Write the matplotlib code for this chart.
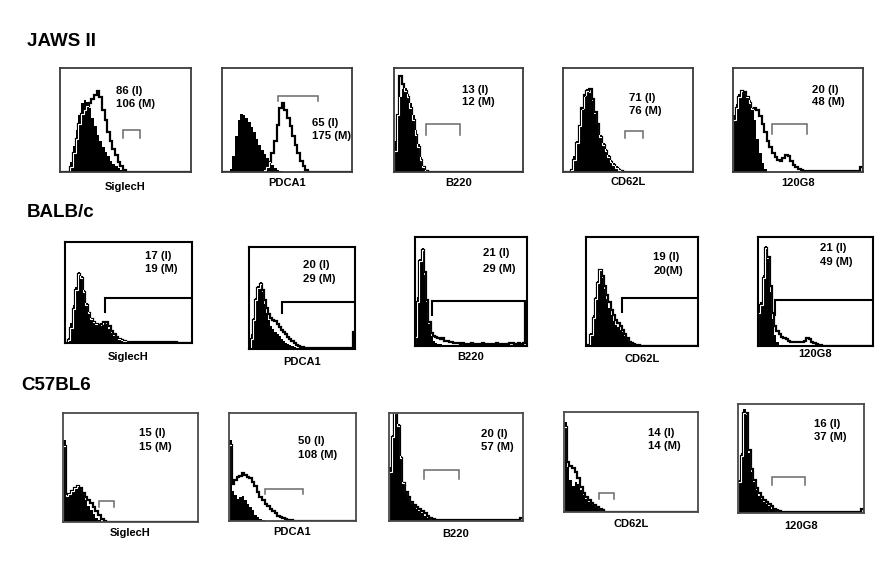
import numpy as np
import matplotlib
matplotlib.use("Agg")
import matplotlib.pyplot as plt

plt.rcParams['font.family'] = ['Liberation Sans', 'DejaVu Sans']

NB = 50  # histogram channels

markers = ["SiglecH", "PDCA1", "B220", "CD62L", "120G8"]
rows = ["JAWS II", "BALB/c", "C57BL6"]

# ---------------- JAWS II (isotype filled, marker open) ----------------
jaws_siglech_iso = [0,0,0,0,10,25,40,55,66,69,67,62,52,44,36,30,24,19,15,11,8,6,4,2,1]
jaws_siglech_mk  = [0,0,0,0,5,18,32,46,56,60,63,66,70,74,78,72,60,50,38,30,22,16,10,6,2]
jaws_pdca1_iso   = [0,0,0,3,15,35,50,56,55,52,48,43,38,32,26,21,17,13,10,7,4,2,1]
jaws_pdca1_mk    = [0]*16 + [2,5,10,18,30,45,62,66,60,52,44,35,26,18,11,6,2]
jaws_b220_iso    = [30,55,72,80,81,75,66,55,40,27,14,6,2]
jaws_b220_mk     = [20,55,92,85,78,72,62,50,36,24,12,5,1]
jaws_cd62l_iso   = [0,0,0,3,15,30,45,60,72,80,76,68,56,45,36,28,22,16,12,9,6,4,2]
jaws_cd62l_mk    = [0,0,0,2,12,28,44,62,74,78,80,70,58,46,34,26,20,14,10,7,4,2,1]
jaws_120g8_iso   = [55,65,75,78,76,72,69,62,50,32,18,9,3]
jaws_120g8_mk    = [50,62,72,78,77,72,66,61,62,60,54,46,38,30,24,18,14,12,11,13,16,15,11,7,5,3,2,1] + [1]*21 + [5]

# ---------------- BALB/c ----------------
balb_siglech_iso = [0,5,20,38,55,70,66,52,40,31,25,21,19,17,18,20,19,14,10,7,5,4,3,2,2,2] + [1]*17
balb_siglech_mk  = [0,3,15,34,52,68,64,50,38,30,24,21,19,18,19,21,21,17,12,9,6,4,3,2] + [1]*20
balb_pdca1_iso   = [0,15,30,50,62,66,56,44,35,28,23,20,17,15,13,10,8,6,5,4,3,2,1,1]
balb_pdca1_mk    = [0,10,28,48,60,64,58,48,40,34,30,28,27,25,22,19,17,15,12,10,8,6,4,3,2,2] + [1]*23 + [17]
balb_b220_iso    = [10,45,80,90,65,40,20,9,5,3,2,2,1,1,1]
balb_b220_mk     = [8,40,78,88,68,42,22,12,9,8,7,6,7,5,5,4,4,3,3,3,
                    2,3,2,2,2,3,2,2,2,2,3,2,2,2,2,2,3,2,2,2,2,2,3,3,2,2,3,2,3,39]
balb_cd62l_iso   = [0,2,12,28,45,60,70,62,52,43,35,28,23,19,17,15,13,9,6,3,2,1,1]
balb_cd62l_mk    = [0,1,10,26,43,58,70,64,55,47,40,33,28,24,21,18,15,11,7,4,3,2,1,1]
balb_120g8_iso   = [35,40,65,92,80,50,25,10,4,1]
balb_120g8_mk    = [30,38,62,90,82,55,30,18,14,11,8,7,6,5,4,4,4,4,4,4,5,7,6,4,3,2,1,1]

# ---------------- C57BL6 ----------------
c57_siglech_iso  = [75,25,27,28,31,33,30,26,20,15,11,7,4,2]
c57_siglech_mk   = [70,24,26,28,31,33,31,27,23,20,17,14,10,6,3,1]
c57_pdca1_iso    = [75,28,24,20,22,23,19,16,13,10,6,4,2,1]
c57_pdca1_mk     = [70,34,38,41,42,44,43,41,40,36,32,27,22,19,16,14,11,9,7,5,4,3,2,1,1]
c57_b220_iso     = [50,80,100,90,60,36,26,21,17,14,11,9,7,5,3,2,1]
c57_b220_mk      = [45,78,100,88,58,35,27,22,18,15,13,11,9,7,5,3,2] + [1]*32 + [3]
c57_cd62l_iso    = [90,45,32,26,30,28,22,17,13,10,8,6,4,2,1]
c57_cd62l_mk     = [85,50,46,44,40,34,25,19,15,12,9,7,5,3,2]
c57_120g8_iso    = [30,55,95,90,55,38,28,21,16,13,10,8,6,4,3,2,1]
c57_120g8_mk     = [28,52,92,92,58,40,30,23,18,15,12,10,8,6,4,3,2] + [1]*32 + [4]

iso = [[jaws_siglech_iso, jaws_pdca1_iso, jaws_b220_iso, jaws_cd62l_iso, jaws_120g8_iso],
       [balb_siglech_iso, balb_pdca1_iso, balb_b220_iso, balb_cd62l_iso, balb_120g8_iso],
       [c57_siglech_iso, c57_pdca1_iso, c57_b220_iso, c57_cd62l_iso, c57_120g8_iso]]
mk = [[jaws_siglech_mk, jaws_pdca1_mk, jaws_b220_mk, jaws_cd62l_mk, jaws_120g8_mk],
      [balb_siglech_mk, balb_pdca1_mk, balb_b220_mk, balb_cd62l_mk, balb_120g8_mk],
      [c57_siglech_mk, c57_pdca1_mk, c57_b220_mk, c57_cd62l_mk, c57_120g8_mk]]

# MFI values: isotype (I), marker (M)
mfi_iso = [["86", "65", "13", "71", "20"],
           ["17", "20", "21", "19", "21"],
           ["15", "50", "20", "14", "16"]]
mfi_mk = [["106 (M)", "175 (M)", "12 (M)", "76 (M)", "48 (M)"],
          ["19 (M)", "29 (M)", "29 (M)", "20(M)", "49 (M)"],
          ["15 (M)", "108 (M)", "57 (M)", "14 (M)", "37 (M)"]]

# gates (channel start, channel end, level %) ; BALB/c gates run to the top channel
gate_lo = [[24, 21.7, 12.25, 24, 15], [15.8, 15.75, 7.5, 16, 7.25], [13.25, 14.35, 13, 13, 13.5]]
gate_hi = [[30.5, 37, 25.5, 30.75, 28.5], [50, 50, 50, 50, 50], [18.85, 29, 26.25, 18.5, 26.5]]
gate_y = [[40, 73, 46, 39.5, 46.5], [44.5, 46, 41.5, 44, 42], [19.5, 30, 47, 19, 33]]
gate_tick = [[33, 68, 36, 33, 37], [31, 35, 28, 31, 28], [14, 25, 38.5, 13, 26]]

# ---------------- layout (pixels) ----------------
W, H = 886, 562
boxes = [[(60,68,191,172), (222,68,352,172), (394,68,523,172), (563,68,693,172), (733,68,863,172)],
         [(65,242,192,343), (249,247,355,349), (415,237,527,346), (586,237,698,346), (758,237,873,346)],
         [(63,413,198,522), (229,413,356,521), (389,413,523,521), (564,412,698,512), (738,404,864,513)]]
label_y = [[187,183,183,182,183], [357,362,357,359,354], [533,532,534,524,526]]
text_pos = [[(0.43,0.78,0.65), (0.69,0.47,0.35), (0.53,0.79,0.67), (0.51,0.71,0.59), (0.61,0.79,0.67)],
            [(0.63,0.86,0.73), (0.51,0.82,0.69), (0.61,0.85,0.71), (0.60,0.82,0.69), (0.54,0.90,0.775)],
            [(0.565,0.82,0.69), (0.54,0.74,0.615), (0.69,0.81,0.685), (0.625,0.79,0.66), (0.605,0.82,0.70)]]
title_pos = [(27, 42), (27, 213), (21, 385)]
box_col = ["#3a3a3a", "#000000", "#4a4a4a"]
gate_col = ["#6a6a6a", "#000000", "#6a6a6a"]

fig = plt.figure(figsize=(W/100, H/100), dpi=100)
edges = np.arange(NB + 1)

def pad(v):
    v = list(v)
    return np.array(v + [0]*(NB - len(v)), dtype=float)

for r in range(3):
    fig.text(title_pos[r][0]/W, 1 - title_pos[r][1]/H, rows[r], fontsize=13.5,
             fontweight='bold', va='center', ha='left')
    for c in range(5):
        l, t, rr, b = boxes[r][c]
        ax = fig.add_axes([l/W, 1 - b/H, (rr-l)/W, (b-t)/H])
        ax.stairs(pad(mk[r][c]), edges, color='black', lw=1.6)
        filled = ax.stairs(pad(iso[r][c]), edges, fill=True, color='black', lw=0)
        inner = ax.stairs(pad(mk[r][c]), edges, color='white', lw=0.8)
        inner.set_clip_path(filled)
        # gate
        x0, x1, gy, gt = gate_lo[r][c], gate_hi[r][c], gate_y[r][c], gate_tick[r][c]
        if r == 1:
            ax.plot([x0, x0, x1], [gt, gy, gy], color=gate_col[r], lw=1.5, solid_joinstyle='miter')
        else:
            ax.plot([x0, x0, x1, x1], [gt, gy, gy, gt], color=gate_col[r], lw=1.1, solid_joinstyle='miter')
        ax.set_xlim(0, NB)
        ax.set_ylim(0, 100)
        ax.set_xticks([])
        ax.set_yticks([])
        for s in ax.spines.values():
            s.set_color(box_col[r])
            s.set_linewidth(1.3 if r != 1 else 1.5)
        tx, ty1, ty2 = text_pos[r][c]
        ax.text(tx, ty1, mfi_iso[r][c] + " (I)", transform=ax.transAxes, fontsize=8.2,
                fontweight='bold', va='center', ha='left')
        ax.text(tx, ty2, mfi_mk[r][c], transform=ax.transAxes, fontsize=8.2,
                fontweight='bold', va='center', ha='left')
        fig.text((l + rr)/2/W, 1 - label_y[r][c]/H, markers[c], fontsize=8,
                 fontweight='bold', ha='center', va='center')

fig.savefig("out.png", dpi=100, facecolor='white')
